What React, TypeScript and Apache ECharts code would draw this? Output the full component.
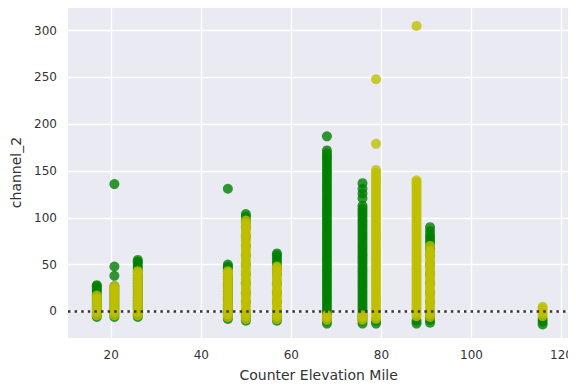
import React, { useEffect, useRef } from "react";
import * as echarts from "echarts";

// x positions (Counter Elevation Mile) of each column
const positions = [16.8, 20.7, 25.9, 45.9, 49.9, 56.8, 67.9, 75.8, 78.8, 87.8, 90.8, 115.8];

// green series values per column
const g17 = [-6, -3, 0, 3, 6, 9, 12, 15, 18, 21, 23, 25, 27, 28];
const g21 = [-6, -3, 0, 3, 6, 9, 12, 15, 18, 21, 24, 27, 38, 48, 136];
const g26 = [-6, -3, 0, 3, 6, 9, 12, 15, 18, 21, 24, 27, 30, 33, 36, 39, 42, 45, 48, 51, 53, 55];
const g46 = [-8, -5, -2, 1, 4, 7, 10, 13, 16, 19, 22, 25, 28, 31, 34, 37, 40, 43, 46, 48, 50, 131];
const g50 = [-10, -7, -4, 0, 10, 20, 30, 40, 50, 60, 70, 80, 90, 95, 98, 101, 104];
const g57 = [-10, -7, -4, 0, 10, 20, 30, 40, 45, 48, 51, 54, 57, 60, 62];
const g68 = [-13, -10, -7, -4, -1, 2, 5, 8, 11, 14, 17, 20, 23, 26, 29, 32, 35, 38, 41, 44, 47, 50, 53, 56, 59, 62, 65, 68, 71, 74, 77, 80, 83, 86, 89, 92, 95, 98, 101, 104, 107, 110, 113, 116, 119, 122, 125, 128, 131, 134, 137, 140, 143, 146, 149, 152, 155, 158, 161, 164, 166, 169, 172, 187];
const g76 = [-13, -10, -7, -4, -1, 2, 5, 8, 11, 14, 17, 20, 23, 26, 29, 32, 35, 38, 41, 44, 47, 50, 53, 56, 59, 62, 65, 68, 71, 74, 77, 80, 83, 86, 89, 92, 95, 98, 101, 104, 107, 110, 113, 121, 126, 131, 137];
const g79 = [-13, -10];
const g88 = [-13, -10];
const g91 = [-12, -9, -6, -3, 0, 10, 20, 30, 40, 50, 60, 64, 67, 70, 73, 76, 79, 82, 86, 90];
const g116 = [-14, -11, -8];

// yellow series values per column
const y17 = [-4, -1, 2, 5, 8, 11, 14, 17];
const y21 = [-4, -1, 2, 5, 8, 11, 14, 17, 20, 23, 25, 27];
const y26 = [-4, -1, 2, 5, 8, 11, 14, 17, 20, 23, 26, 29, 32, 35, 38, 41, 43];
const y46 = [-6, -3, 0, 3, 6, 9, 12, 15, 18, 21, 24, 27, 30, 33, 36, 39, 41, 43];
const y50 = [-8, -5, -2, 1, 4, 7, 10, 13, 16, 19, 22, 25, 28, 31, 34, 37, 40, 43, 46, 49, 52, 55, 58, 61, 64, 67, 70, 73, 76, 79, 82, 85, 88, 91, 94, 97];
const y57 = [-8, -5, -2, 1, 4, 7, 10, 13, 16, 19, 22, 25, 28, 31, 34, 37, 40, 43, 46, 48];
const y68 = [-9, -6, -4];
const y76 = [-9, -6, -4];
const y79 = [-8, -5, -2, 1, 4, 7, 10, 13, 16, 19, 22, 25, 28, 31, 34, 37, 40, 43, 46, 49, 52, 55, 58, 61, 64, 67, 70, 73, 76, 79, 82, 85, 88, 91, 94, 97, 100, 103, 106, 109, 112, 115, 118, 121, 124, 127, 130, 133, 136, 139, 142, 145, 148, 151, 179, 248];
const y88 = [-5, -2, 1, 4, 7, 10, 13, 16, 19, 22, 25, 28, 31, 34, 37, 40, 43, 46, 49, 52, 55, 58, 61, 64, 67, 70, 73, 76, 79, 82, 85, 88, 91, 94, 97, 100, 103, 106, 109, 112, 115, 118, 121, 124, 127, 130, 133, 136, 138, 140, 305];
const y91 = [-6, -3, 0, 3, 6, 9, 12, 15, 18, 21, 24, 27, 30, 33, 36, 39, 42, 45, 48, 51, 54, 57, 60, 63, 65, 70];
const y116 = [-5, -2, 1, 3, 5];

const greenColumns = [g17, g21, g26, g46, g50, g57, g68, g76, g79, g88, g91, g116];
const yellowColumns = [y17, y21, y26, y46, y50, y57, y68, y76, y79, y88, y91, y116];

const xTicks = [20, 40, 60, 80, 100, 120];
const yTicks = [0, 50, 100, 150, 200, 250, 300];

const toPairs = (cols: number[][]) =>
  cols.flatMap((vals, i) => vals.map((v) => [positions[i], v]));

export default function App() {
  const ref = useRef<HTMLDivElement>(null);
  useEffect(() => {
    if (!ref.current) return;
    const chart = echarts.init(ref.current, undefined, { renderer: "svg" });
    const font = "DejaVu Sans, sans-serif";
    chart.setOption({
      animation: false,
      grid: {
        left: 68,
        top: 7,
        right: 3,
        bottom: 51,
        show: true,
        backgroundColor: "#EAEAF2",
        borderWidth: 0,
      },
      xAxis: {
        type: "value",
        min: 10.4,
        max: 121.7,
        name: "Counter Elevation Mile",
        nameLocation: "middle",
        nameGap: 30,
        nameTextStyle: { color: "#333", fontSize: 14, fontFamily: font },
        axisLine: { show: false },
        axisTick: { show: false, customValues: xTicks },
        axisLabel: { customValues: xTicks, color: "#333", fontSize: 12, fontFamily: font, margin: 11 },
        splitLine: { show: true, lineStyle: { color: "#ffffff", width: 1.3 } },
      },
      yAxis: {
        type: "value",
        min: -28.4,
        max: 325.2,
        name: "channel_2",
        nameLocation: "middle",
        nameGap: 45,
        nameTextStyle: { color: "#333", fontSize: 14, fontFamily: font },
        axisLine: { show: false },
        axisTick: { show: false, customValues: yTicks },
        axisLabel: { customValues: yTicks, color: "#333", fontSize: 12, fontFamily: font, margin: 11 },
        splitLine: { show: true, lineStyle: { color: "#ffffff", width: 1.3 } },
      },
      series: [
        {
          type: "scatter",
          name: "green",
          data: toPairs(greenColumns),
          symbolSize: 10,
          itemStyle: { color: "#008000", opacity: 0.8 },
          z: 2,
        },
        {
          type: "scatter",
          name: "yellow",
          data: toPairs(yellowColumns),
          symbolSize: 10,
          itemStyle: { color: "#bfbf00", opacity: 0.8 },
          z: 3,
          markLine: {
            silent: true,
            symbol: "none",
            z: 10,
            label: { show: false },
            lineStyle: { color: "#333", type: [2.5, 4.1], width: 2.5 },
            data: [{ yAxis: 0 }],
          },
        },
      ],
    });
    return () => chart.dispose();
  }, []);
  return <div ref={ref} style={{ width: 576, height: 389, margin: -8 }} />;
}
